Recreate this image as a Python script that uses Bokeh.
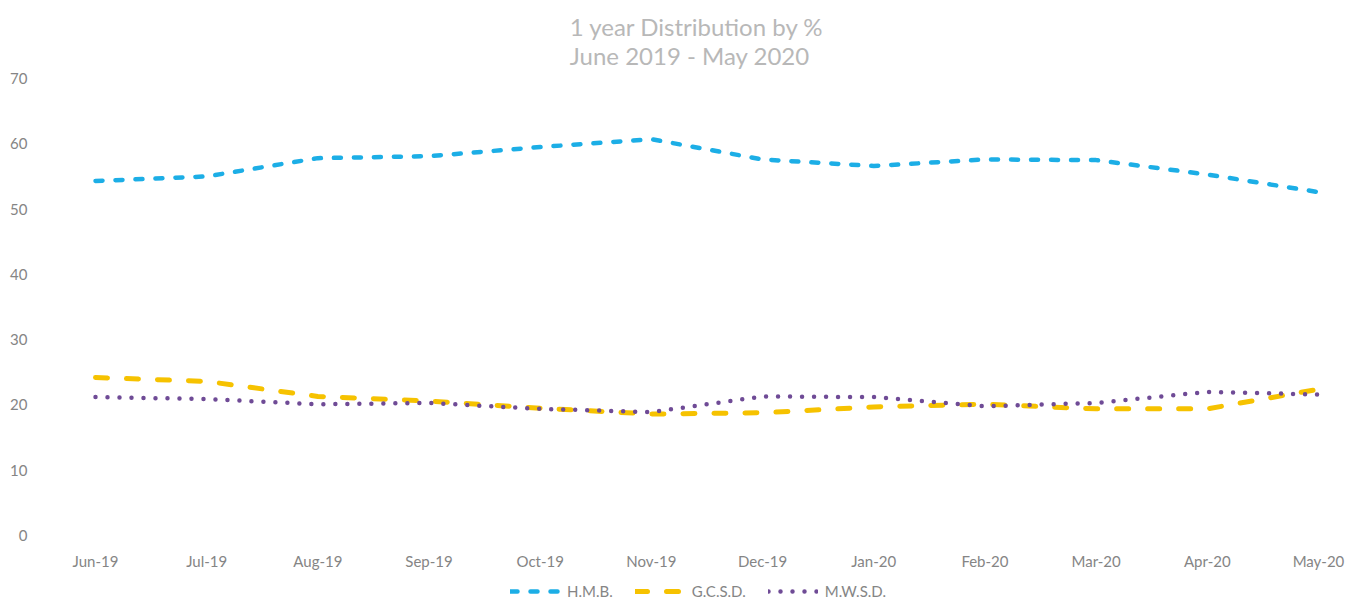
from bokeh.plotting import figure
from bokeh.models import Range1d, FixedTicker, Legend, LegendItem
from bokeh.layouts import column
from bokeh.embed import file_html
from bokeh.resources import INLINE

months = ["Jun-19", "Jul-19", "Aug-19", "Sep-19", "Oct-19", "Nov-19",
          "Dec-19", "Jan-20", "Feb-20", "Mar-20", "Apr-20", "May-20"]
hmb = [54.3, 55.0, 57.8, 58.1, 59.5, 60.7, 57.6, 56.6, 57.6, 57.5, 55.3, 52.6]
gcsd = [24.2, 23.6, 21.3, 20.6, 19.5, 18.6, 18.8, 19.7, 20.1, 19.4, 19.4, 22.4]
mwsd = [21.2, 20.9, 20.1, 20.3, 19.4, 18.9, 21.3, 21.2, 19.8, 20.3, 22.0, 21.6]
y_ticks = [0, 10, 20, 30, 40, 50, 60, 70]
title_1 = "1 year Distribution by %"
title_2 = "June 2019 -  May 2020"
series_names = ["H.M.B.", "G.C.S.D.", "M.W.S.D."]

x = list(range(len(months)))
series = [hmb, gcsd, mwsd]

TITLE_COLOR = "#b8b8b8"
TEXT_COLOR = "#858585"
styles = [dict(line_color="#1caee6", line_width=4.5, line_dash="7 13", line_cap="round"),
          dict(line_color="#f6c200", line_width=5, line_dash="12 19", line_cap="round"),
          dict(line_color="#6f4b96", line_width=4.5, line_dash="0 12", line_cap="round")]

p = figure(width=1345, height=572, output_backend="svg", toolbar_location=None,
           x_range=Range1d(-0.4227, 11.243), y_range=Range1d(0, 70),
           min_border_left=48, min_border_right=0, min_border_top=78,
           min_border_bottom=35)

p.title.text = title_1 + "\n" + title_2
p.title.align = "center"
p.title.text_font = "Lato"
p.title.text_font_style = "normal"
p.title.text_font_size = "24px"
p.title.text_color = TITLE_COLOR
p.title.standoff = 18

p.outline_line_color = None
p.xgrid.grid_line_color = None
p.ygrid.grid_line_color = None

for ax in (p.xaxis[0], p.yaxis[0]):
    ax.axis_line_color = None
    ax.major_tick_line_color = None
    ax.minor_tick_line_color = None
    ax.major_tick_out = 0
    ax.major_tick_in = 0
    ax.minor_tick_out = 0
    ax.major_label_text_font = "Lato"
    ax.major_label_text_font_size = "15px"
    ax.major_label_text_color = TEXT_COLOR

p.xaxis[0].ticker = FixedTicker(ticks=x)
p.xaxis[0].major_label_overrides = {i: m for i, m in enumerate(months)}
p.xaxis[0].major_label_standoff = 16
p.yaxis[0].ticker = FixedTicker(ticks=y_ticks)
p.yaxis[0].major_label_standoff = 21

for vals, st in zip(series, styles):
    p.line(x, vals, **st)

# legend strip below the chart (its lines fall outside its 0..1 range)
lg = figure(width=1345, height=28, output_backend="svg", toolbar_location=None,
            x_range=Range1d(0, 1), y_range=Range1d(0, 1),
            x_axis_location=None, y_axis_location=None,
            min_border_left=0, min_border_right=0, min_border_top=0,
            min_border_bottom=0)
lg.outline_line_color = None
lg.xgrid.grid_line_color = None
lg.ygrid.grid_line_color = None
items = []
for name, vals, st in zip(series_names, series, styles):
    r = lg.line(x, vals, **st)
    items.append(LegendItem(label=name, renderers=[r]))

legend = Legend(items=items, orientation="horizontal", location=(462, 0),
                glyph_width=50, glyph_height=14, label_standoff=7, spacing=22,
                padding=0, margin=0, border_line_color=None,
                background_fill_alpha=0,
                label_text_font="Lato", label_text_font_size="15px",
                label_text_color=TEXT_COLOR)
lg.add_layout(legend, "center")

layout = column(p, lg, spacing=0)
open("out.html", "w").write(file_html(layout, INLINE))
